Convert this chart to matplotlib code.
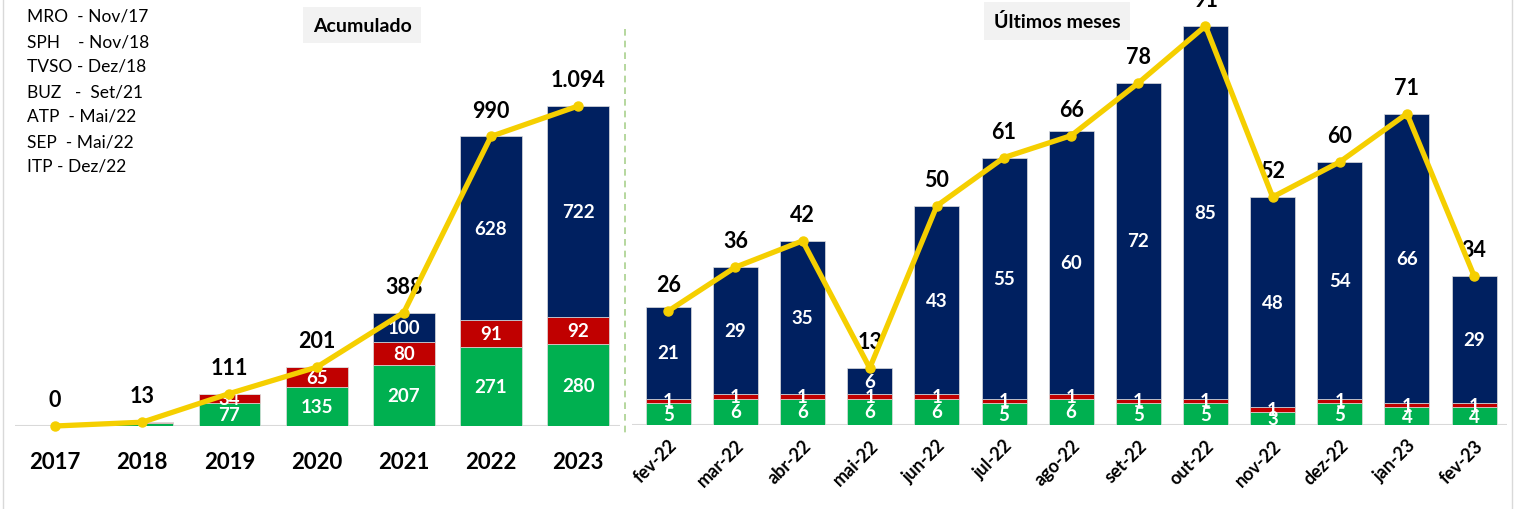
import numpy as np
import matplotlib
matplotlib.use("Agg")
import matplotlib.pyplot as plt
from matplotlib.lines import Line2D

plt.rcParams['font.family'] = ['Lato', 'DejaVu Sans']

# dados acumulados
anos = ['2017', '2018', '2019', '2020', '2021', '2022', '2023']
ac_verde = [0, 10, 77, 135, 207, 271, 280]
ac_verm = [0, 3, 34, 65, 80, 91, 92]
ac_azul = [0, 0, 0, 1, 100, 628, 722]
ac_total = [0, 13, 111, 201, 388, 990, 1094]

# ultimos meses
meses = ['fev-22', 'mar-22', 'abr-22', 'mai-22', 'jun-22', 'jul-22', 'ago-22',
         'set-22', 'out-22', 'nov-22', 'dez-22', 'jan-23', 'fev-23']
m_verde = [5, 6, 6, 6, 6, 5, 6, 5, 5, 3, 5, 4, 4]
m_verm = [1, 1, 1, 1, 1, 1, 1, 1, 1, 1, 1, 1, 1]
m_azul = [21, 29, 35, 6, 43, 55, 60, 72, 85, 48, 54, 66, 29]
m_total = [26, 36, 42, 13, 50, 61, 66, 78, 91, 52, 60, 71, 34]

legenda = ['MRO  - Nov/17', 'SPH    - Nov/18', 'TVSO - Dez/18', 'BUZ   -  Set/21',
           'ATP  - Mai/22', 'SEP  - Mai/22', 'ITP - Dez/22']

VERDE = '#00B050'
VERM = '#C00000'
AZUL = '#002060'
AMAR = '#F5CF00'

W, H = 1524, 510
fig = plt.figure(figsize=(W / 100, H / 100), dpi=100)


def fmt(v):
    return '{:,}'.format(v).replace(',', '.')


def desenha(ax, cats, verde, verm, azul, total, largura, minimo, fs_in, fs_tot):
    x = np.arange(len(cats))
    verde = np.array(verde); verm = np.array(verm); azul = np.array(azul)
    ax.bar(x, verde, largura, color=VERDE, edgecolor='#DDDDDD', linewidth=0.5)
    ax.bar(x, verm, largura, bottom=verde, color=VERM, edgecolor='#DDDDDD', linewidth=0.5)
    ax.bar(x, azul, largura, bottom=verde + verm, color=AZUL, edgecolor='#DDDDDD', linewidth=0.5)
    for i in range(len(cats)):
        base = 0
        for v in (verde[i], verm[i], azul[i]):
            if v >= minimo:
                ax.text(x[i], base + v / 2, str(v), color='white', fontsize=fs_in,
                        fontweight='bold', ha='center', va='center')
            base += v
    ax.plot(x, total, color=AMAR, lw=3.8, marker='o', ms=6.5, solid_capstyle='round',
            solid_joinstyle='round', zorder=5, clip_on=False)
    for i, t in enumerate(total):
        ax.annotate(fmt(t), (x[i], t), xytext=(0, 19), textcoords='offset points',
                    ha='center', va='center', fontsize=fs_tot, fontweight='bold',
                    color='black', annotation_clip=False)
    for s in ax.spines.values():
        s.set_visible(False)
    ax.set_yticks([])
    ax.axhline(0, color='#D9D9D9', lw=1.5, zorder=0)
    ax.tick_params(axis='x', length=0)
    return x


# eixo esquerdo
ax1 = fig.add_axes([15 / W, (H - 427) / H, (620 - 15) / W, (427 - 20) / H])
x1 = desenha(ax1, anos, ac_verde, ac_verm, ac_azul, ac_total, 0.71, 30, 13.5, 15.5)
ax1.set_xlim(-0.46, 6.48)
ax1.set_ylim(0, 1094 * 407 / 320)
ax1.set_xticks(x1)
ax1.set_xticklabels(anos, fontsize=16, fontweight='bold')
ax1.tick_params(axis='x', pad=18)

# eixo direito
ax2 = fig.add_axes([632 / W, (H - 426) / H, (1507 - 632) / W, 426 / H])
x2 = desenha(ax2, meses, m_verde, m_verm, m_azul, m_total, 0.67, 1, 13.5, 15.5)
ax2.set_xlim(-0.54, 12.49)
ax2.set_ylim(0, 91 * 426 / 399)
ax2.set_xticks(x2)
ax2.set_xticklabels(meses, fontsize=13, fontweight='bold', rotation=45,
                    ha='right', rotation_mode='anchor')
ax2.tick_params(axis='x', pad=8)

# titulos
fig.text(362 / W, 1 - 26 / H, 'Acumulado', fontsize=14, fontweight='bold', ha='center',
         va='center', bbox=dict(boxstyle='square,pad=0.5', fc='#F2F2F2', ec='none'))
fig.text(1057 / W, 1 - 22 / H, 'Últimos meses', fontsize=14, fontweight='bold', ha='center',
         va='center', bbox=dict(boxstyle='square,pad=0.5', fc='#F2F2F2', ec='none'))

# legenda das unidades
for i, s in enumerate(legenda):
    fig.text(27 / W, 1 - (17 + 25 * i) / H, s, fontsize=12.5, ha='left', va='center')

# separador e bordas
fig.add_artist(Line2D([625 / W, 625 / W], [1 - 30 / H, 1 - 435 / H], color='#A9D18E',
                      lw=1.2, ls=(0, (4, 3))))
fig.add_artist(Line2D([3 / W, 3 / W], [0, 1], color='#D9D9D9', lw=1))
fig.add_artist(Line2D([1512 / W, 1512 / W], [0, 1], color='#D9D9D9', lw=1))

fig.savefig('out.png', dpi=100)
